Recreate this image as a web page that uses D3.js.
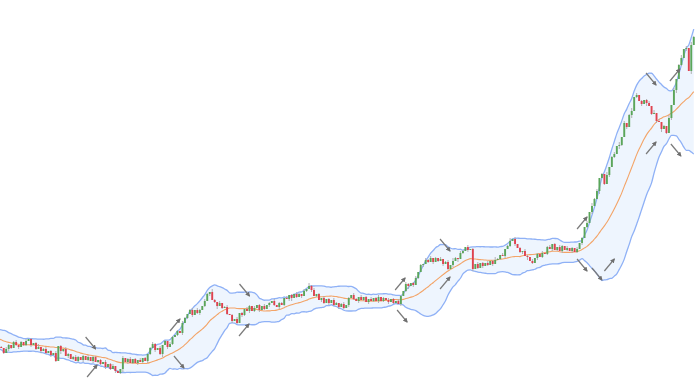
<!DOCTYPE html>
<html>
<head>
<meta charset="utf-8">
<script src="https://cdn.jsdelivr.net/npm/d3@7"></script>
<style>
  html, body { margin: 0; padding: 0; background: #fff; }
  svg { display: block; }
</style>
</head>
<body>
<svg id="chart"></svg>
<script>
const width = 695
const height = 389
const PERIOD = 20

// closes before the first visible candle (they only feed the bands)
const warmup = [56, 58, 55, 57, 54, 55, 52, 53, 50, 51, 48, 49, 47, 48, 45, 46, 44, 45, 43, 42]

const closes = [
  41, 36, 40, 44, 41, 47, 44, 42, 47, 44,
  48, 50, 44, 46, 40, 42, 38, 40, 36, 38,
  34, 36, 28, 43, 38, 40, 33, 35, 30, 32,
  28, 32, 29, 33, 29, 32, 28, 32, 27, 29,
  25, 27, 22, 25, 20, 23, 18, 16, 20, 31,
  27, 30, 26, 30, 26, 29, 27, 31, 28, 35,
  41, 45, 39, 41, 35, 44, 48, 42, 45, 52,
  54, 58, 56, 66, 71, 75, 79, 74, 79, 76,
  79, 83, 88, 95, 97, 89, 87, 83, 86, 81,
  82, 75, 74, 68, 70, 66, 76, 74, 80, 78,
  83, 78, 81, 84, 79, 83, 80, 84, 86, 88,
  84, 82, 86, 84, 91, 90, 94, 91, 95, 92,
  95, 93, 98, 100, 103, 99, 93, 95, 89, 91,
  86, 90, 86, 89, 84, 86, 82, 85, 81, 84,
  91, 94, 90, 88, 92, 89, 92, 87, 90, 88,
  91, 88, 92, 88, 91, 89, 87, 90, 86, 88,
  85, 93, 98, 105, 103, 106, 104, 111, 117, 124,
  125, 129, 127, 131, 127, 131, 128, 130, 125, 127,
  120, 124, 128, 131, 130, 136, 138, 142, 139, 140,
  120, 125, 121, 126, 123, 126, 124, 128, 125, 129,
  130, 134, 133, 140, 143, 148, 150, 145, 141, 137,
  138, 133, 132, 128, 126, 131, 135, 132, 136, 135,
  142, 140, 145, 139, 142, 138, 143, 139, 141, 138,
  141, 137, 140, 146, 151, 162, 166, 177, 183, 190,
  198, 211, 215, 205, 214, 222, 232, 235, 243, 244,
  252, 266, 262, 274, 278, 292, 294, 288, 285, 289,
  286, 283, 275, 276, 268, 267, 260, 263, 256, 271,
  284, 299, 310, 324, 331, 340, 341, 318, 344, 352
]

// wick length above / below the body, one digit per candle
const wickUp = ('1021012010 2010130120 1020102101 2101020110 1020120102 0120102010 1210201021 ' +
  '0102101202 1021031020 1201020102 1020102010 2011020102 1020312010 2010210120 1021020102 ' +
  '0120102010 2102101201 0212010201 2031021020 1020102013 1020130201 0210201020 1201021020 ' +
  '1020102031 2010301203 0201302010 1203020103 0201302031').replace(/ /g, '')
const wickDown = ('0102101201 1020102010 2010310201 0102010201 1020102013 0201020102 1020130201 ' +
  '0102010201 2010201301 0102010210 2010201020 1020102301 0201020102 1020102010 2010201020 ' +
  '1020102010 0201302010 2010201020 1020301020 2010201020 0102010201 2030102010 1020102010 ' +
  '2010201020 0301020103 1020301020 3010203010 2030102030').replace(/ /g, '')

// signal arrows: candle index, price, direction
const arrowIdx = [36, 36.6, 70, 71.6, 98, 97.8, 160.7, 161.5, 178.8, 178.8, 234, 234, 240, 245, 261.8, 271.4, 261.8, 271.8]
const arrowPrice = [46, 18, 64, 27, 99, 59, 105, 73, 144, 106, 166, 124, 115, 124, 310, 314, 241, 239]
const arrowDir = ['down', 'up', 'up', 'down', 'down', 'up', 'up', 'down', 'down', 'up',
  'up', 'down', 'down', 'up', 'down', 'up', 'up', 'down']

const svg = d3.select('#chart')
  .attr('width', width)
  .attr('height', height)

const x = d3.scaleLinear().domain([-0.5, closes.length - 0.5]).range([0, width])
const y = d3.scaleLinear().domain([0, 389]).range([height, 0])
const step = x(1) - x(0)

// -------- bollinger bands --------
const all = warmup.concat(closes)
const offset = warmup.length
const bands = []
for (let k = PERIOD - 1; k < all.length; k++) {
  const win = all.slice(k - PERIOD + 1, k + 1)
  const m = d3.mean(win)
  const sd = Math.sqrt(d3.mean(win, v => (v - m) * (v - m)))
  bands.push({ i: k - offset, mid: m, up: m + 2 * sd, lo: m - 2 * sd })
}

const curve = d3.curveMonotoneX

svg.append('path')
  .datum(bands)
  .attr('fill', '#eef5fe')
  .attr('d', d3.area().curve(curve).x(d => x(d.i)).y0(d => y(d.lo)).y1(d => y(d.up)))

const line = key => d3.line().curve(curve).x(d => x(d.i)).y(d => y(d[key]))

svg.append('path').datum(bands)
  .attr('fill', 'none').attr('stroke', '#8fb1f6').attr('stroke-width', 1.3)
  .attr('d', line('up'))
svg.append('path').datum(bands)
  .attr('fill', 'none').attr('stroke', '#8fb1f6').attr('stroke-width', 1.3)
  .attr('d', line('lo'))
svg.append('path').datum(bands)
  .attr('fill', 'none').attr('stroke', '#f3a468').attr('stroke-width', 1.1)
  .attr('d', line('mid'))

// -------- candles --------
const candles = closes.map((c, i) => {
  const open = i ? closes[i - 1] : warmup[warmup.length - 1]
  return {
    i, open, close: c,
    high: Math.max(open, c) + (+wickUp[i] || 0),
    low: Math.min(open, c) - (+wickDown[i] || 0)
  }
})

const g = svg.append('g')

g.selectAll('line.wick')
  .data(candles)
  .join('line')
    .attr('class', 'wick')
    .attr('x1', d => x(d.i)).attr('x2', d => x(d.i))
    .attr('y1', d => y(d.high)).attr('y2', d => y(d.low))
    .attr('stroke', '#a9a9a9')
    .attr('stroke-width', 0.9)

g.selectAll('rect')
  .data(candles)
  .join('rect')
    .attr('x', d => x(d.i) - step * 0.38)
    .attr('width', step * 0.76)
    .attr('y', d => y(Math.max(d.open, d.close)))
    .attr('height', d => Math.max(1, Math.abs(y(d.open) - y(d.close))))
    .attr('fill', d => d.close >= d.open ? '#5aa65a' : '#e0424f')

// -------- arrows --------
svg.append('defs').append('marker')
  .attr('id', 'head')
  .attr('viewBox', '0 0 10 10')
  .attr('refX', 8).attr('refY', 5)
  .attr('markerWidth', 4).attr('markerHeight', 4)
  .attr('orient', 'auto')
  .append('path')
    .attr('d', 'M0,0L10,5L0,10z')
    .attr('fill', '#6f6f6f')

const arrows = arrowIdx.map((i, k) => ({ i, p: arrowPrice[k], dir: arrowDir[k] }))

svg.selectAll('line.arrow')
  .data(arrows)
  .join('line')
    .attr('class', 'arrow')
    .attr('x1', d => x(d.i) - 5)
    .attr('x2', d => x(d.i) + 5)
    .attr('y1', d => y(d.p) + (d.dir === 'up' ? 6 : -6))
    .attr('y2', d => y(d.p) + (d.dir === 'up' ? -6 : 6))
    .attr('stroke', '#7a7a7a')
    .attr('stroke-width', 1.2)
    .attr('marker-end', 'url(#head)')
</script>
</body>
</html>
